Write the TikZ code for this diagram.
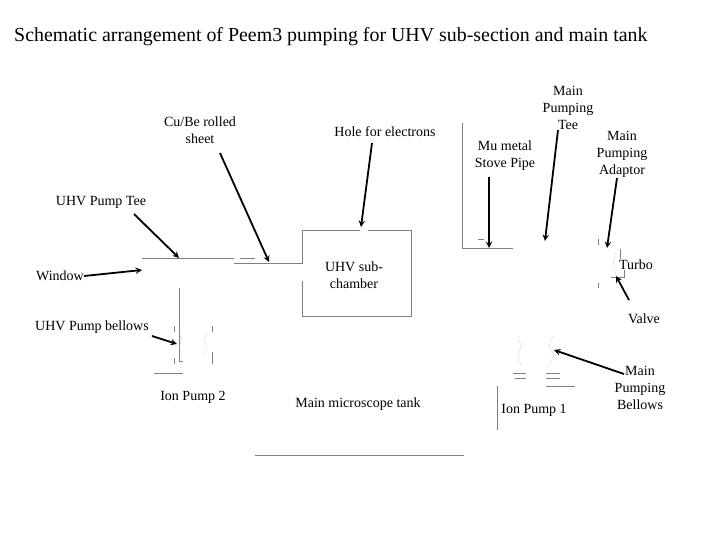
\documentclass[tikz,border=0pt]{standalone}
\usepackage{fontspec}
\setmainfont{Liberation Serif}
\usetikzlibrary{arrows}
\tikzstyle{label} = [align=center, inner sep=0pt, font=\fontsize{14}{17}\selectfont]
\tikzstyle{arrow} = [line width=1.8pt,->,>=stealth]
\tikzstyle{pipe} = [draw=black!50, line width=0.7pt]
\tikzstyle{faint} = [draw=black!30, line width=0.5pt, densely dotted]

\begin{document}
\begin{tikzpicture}[x=1pt,y=-1pt]
\useasboundingbox (0,0) rectangle (720,540);

% Nodes
\node (title) [label, anchor=west, font=\fontsize{19.9}{22}\selectfont] at (14,37) {Schematic arrangement of Peem3 pumping for UHV sub-section and main tank};
\node (sheet) [label] at (200,130) {Cu/Be rolled\\sheet};
\node (hole) [label] at (385,132) {Hole for electrons};
\node (tee) [label] at (568,108) {Main\\Pumping\\Tee};
\node (stove) [label] at (505,156) {Mu metal\\Stove Pipe};
\node (adaptor) [label] at (622,154) {Main\\Pumping\\Adaptor};
\node (uhvtee) [label] at (101,202) {UHV Pump Tee};
\node (window) [label] at (60,276) {Window};
\node (chamber) [label] at (354,275) {UHV sub-\\chamber};
\node (turbo) [label] at (636,265) {Turbo};
\node (valve) [label] at (644,319) {Valve};
\node (bellows) [label] at (92,327) {UHV Pump bellows};
\node (ion2) [label] at (193,397) {Ion Pump 2};
\node (tank) [label] at (358,404) {Main microscope tank};
\node (ion1) [label] at (534,410) {Ion Pump 1};
\node (mainbellows) [label] at (640,388) {Main\\Pumping\\Bellows};

\coordinate (sheetstart) at (220,153);
\coordinate (holestart) at (372,143);
\coordinate (teestart) at (558,130);
\coordinate (stovestart) at (489,177);
\coordinate (adaptorstart) at (617,178);
\coordinate (uhvteestart) at (134,214);
\coordinate (valvestart) at (629,300);
\coordinate (bellowsstart) at (152,336);
\coordinate (mainbellowsstart) at (624,374);

\coordinate (sheetend) at (269,262);
\coordinate (holeend) at (361,227);
\coordinate (teeend) at (545,241);
\coordinate (stoveend) at (489,248);
\coordinate (adaptorend) at (607,248);
\coordinate (uhvteeend) at (179,258);
\coordinate (windowend) at (142,270);
\coordinate (turboend) at (616,276);
\coordinate (bellowsend) at (177,344);
\coordinate (mainbellowsend) at (554,350);

% Pipes
\draw [pipe] (142,258) -- (234,258);
\draw [pipe] (240,258) -- (255,258);
\draw [pipe] (234,263) -- (302,263) -- (302,230) -- (360,230);
\draw [pipe] (368,230) -- (411,230) -- (411,316) -- (302,316) -- (302,281);
\draw [pipe] (179,288) -- (179,361) -- (183,361);
\draw [pipe] (154,373) -- (183,373);
\draw [pipe] (462,123) -- (462,248) -- (513,248);
\draw [pipe] (478,239) -- (484,239);
\draw [pipe] (497,386) -- (497,430);
\draw [pipe] (513,373) -- (526,373);
\draw [pipe] (515,378) -- (526,378);
\draw [pipe] (546,373) -- (560,373);
\draw [pipe] (546,378) -- (560,378);
\draw [pipe] (546,386) -- (575,386);
\draw [pipe] (255,455) -- (464,455);
\draw [pipe] (598,239) -- (598,245);
\draw [pipe] (598,283) -- (598,288);
\draw [pipe] (611,277) -- (624,277) -- (624,270);
\draw [pipe] (620,249) -- (620,259);
\draw [pipe] (174,326) -- (174,332);
\draw [pipe] (174,358) -- (174,364);
\draw [pipe] (212,326) -- (212,332);
\draw [pipe] (212,352) -- (212,364);

% Bellows
\draw [faint] (179,332) -- (182,340) -- (179,348) -- (182,356);
\draw [faint] (207,332) -- (204,340) -- (207,348) -- (204,356);
\draw [faint] (518,336) -- (521,346) -- (518,354) -- (521,366);
\draw [faint] (553,336) -- (549,346) -- (554,354) -- (549,366);
\draw [faint] (616,252) -- (613,262) -- (616,276);

% Arrows
\draw [arrow] (sheetstart) -- (sheetend);
\draw [arrow] (holestart) -- (holeend);
\draw [arrow] (teestart) -- (teeend);
\draw [arrow] (stovestart) -- (stoveend);
\draw [arrow] (adaptorstart) -- (adaptorend);
\draw [arrow] (uhvteestart) -- (uhvteeend);
\draw [arrow] (window.east) -- (windowend);
\draw [arrow] (valvestart) -- (turboend);
\draw [arrow] (bellowsstart) -- (bellowsend);
\draw [arrow] (mainbellowsstart) -- (mainbellowsend);

\end{tikzpicture}
\end{document}
